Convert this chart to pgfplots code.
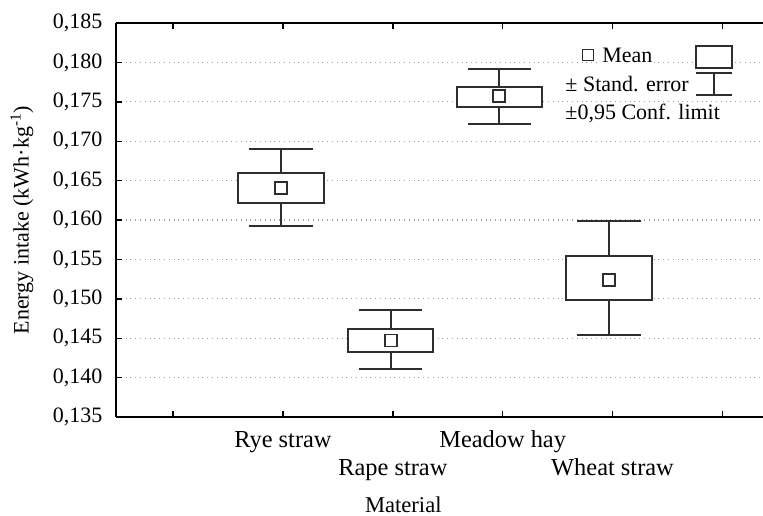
\documentclass[border=0pt]{standalone}
\usepackage{fontspec}
\setmainfont{Liberation Serif}
\usepackage{pgfplots}
\pgfplotsset{compat=1.18}
\definecolor{boxcol}{gray}{0.18}
\begin{document}
\fontsize{11}{14}\selectfont
\begin{tikzpicture}
\useasboundingbox (-58pt,-49pt) rectangle (323.5pt,208.5pt);
\begin{axis}[
  scale only axis, width=323.5pt, height=197pt,
  xmin=-0.52, xmax=5.37, ymin=0.135, ymax=0.185,
  axis x line*=box, axis y line*=left,
  tick align=inside, major tick length=3pt,
  axis line style={black, line width=0.7pt},
  every tick/.style={black, line width=0.7pt},
  xtick={0,1,2,3,4,5},
  xticklabels={,\strut Rye straw,{\strut\\Rape straw},\strut Meadow hay,{\strut\\Wheat straw},},
  xticklabel style={align=center, font=\fontsize{12.2}{14}\selectfont, yshift=-1.5pt},
  ytick={0.135,0.140,0.145,0.150,0.155,0.160,0.165,0.170,0.175,0.180,0.185},
  yticklabel style={font=\fontsize{11}{14}\selectfont, xshift=-3pt,
    /pgf/number format/.cd, fixed, fixed zerofill, precision=3, use comma},
  /pgf/number format/assume math mode=true,
  scaled y ticks=false,
  ymajorgrids,
  grid style={dotted, gray!75, line width=0.6pt},
  ylabel={Energy intake (kWh·kg\textsuperscript{-1})},
  ylabel style={at={(rel axis cs:-0.1453,0.5)}, anchor=center, font=\fontsize{11}{14}\selectfont},
  xlabel={Material},
  xlabel style={at={(rel axis cs:0.444,-0.2234)}, anchor=center, font=\fontsize{11.3}{14}\selectfont},
  unbounded coords=jump,
]
% Rye straw
\addplot[boxcol, line width=1pt] coordinates {(0.98,0.1660)(0.98,0.1690) (nan,nan) (0.69,0.1690)(1.27,0.1690) (nan,nan) (0.98,0.1621)(0.98,0.1592) (nan,nan) (0.69,0.1592)(1.27,0.1592)};
\addplot[boxcol, line width=1pt, fill=white] coordinates {(0.59,0.1621)(1.37,0.1621)(1.37,0.1660)(0.59,0.1660)} -- cycle;
% Rape straw
\addplot[boxcol, line width=1pt] coordinates {(1.98,0.1462)(1.98,0.1486) (nan,nan) (1.69,0.1486)(2.27,0.1486) (nan,nan) (1.98,0.1432)(1.98,0.1411) (nan,nan) (1.69,0.1411)(2.27,0.1411)};
\addplot[boxcol, line width=1pt, fill=white] coordinates {(1.59,0.1432)(2.37,0.1432)(2.37,0.1462)(1.59,0.1462)} -- cycle;
% Meadow hay
\addplot[boxcol, line width=1pt] coordinates {(2.97,0.1769)(2.97,0.1791) (nan,nan) (2.68,0.1791)(3.26,0.1791) (nan,nan) (2.97,0.1743)(2.97,0.1722) (nan,nan) (2.68,0.1722)(3.26,0.1722)};
\addplot[boxcol, line width=1pt, fill=white] coordinates {(2.58,0.1743)(3.36,0.1743)(3.36,0.1769)(2.58,0.1769)} -- cycle;
% Wheat straw
\addplot[boxcol, line width=1pt] coordinates {(3.97,0.1554)(3.97,0.1599) (nan,nan) (3.68,0.1599)(4.26,0.1599) (nan,nan) (3.97,0.1498)(3.97,0.1454) (nan,nan) (3.68,0.1454)(4.26,0.1454)};
\addplot[boxcol, line width=1pt, fill=white] coordinates {(3.58,0.1498)(4.36,0.1498)(4.36,0.1554)(3.58,0.1554)} -- cycle;
% means
\addplot[only marks, mark=square, mark size=3pt, mark options={boxcol, line width=0.9pt, fill=white}]
  coordinates {(0.98,0.1641) (1.98,0.1447) (2.97,0.1757) (3.97,0.1524)};
% legend
\draw[boxcol, line width=0.8pt, fill=white] (axis description cs:0.7295,0.9188) ++(-2.75pt,-2.75pt) rectangle ++(5.5pt,5.5pt);
\node[anchor=west, fill=white, inner sep=1pt, font=\fontsize{11}{14}\selectfont] at (axis description cs:0.748,0.9188) {Mean};
\node[anchor=west, fill=white, inner sep=1pt, font=\fontsize{11}{14}\selectfont] at (axis description cs:0.691,0.845) {± Stand. error};
\node[anchor=west, fill=white, inner sep=1pt, font=\fontsize{11}{14}\selectfont] at (axis description cs:0.691,0.7716) {±0,95 Conf. limit};
\draw[boxcol, line width=1pt, fill=white] (axis description cs:0.8964,0.8858) rectangle (axis description cs:0.952,0.9416);
\draw[boxcol, line width=1pt] (axis description cs:0.8964,0.873) -- (axis description cs:0.952,0.873);
\draw[boxcol, line width=1pt] (axis description cs:0.9243,0.873) -- (axis description cs:0.9243,0.8173);
\draw[boxcol, line width=1pt] (axis description cs:0.8964,0.8173) -- (axis description cs:0.952,0.8173);
\end{axis}
\end{tikzpicture}
\end{document}
